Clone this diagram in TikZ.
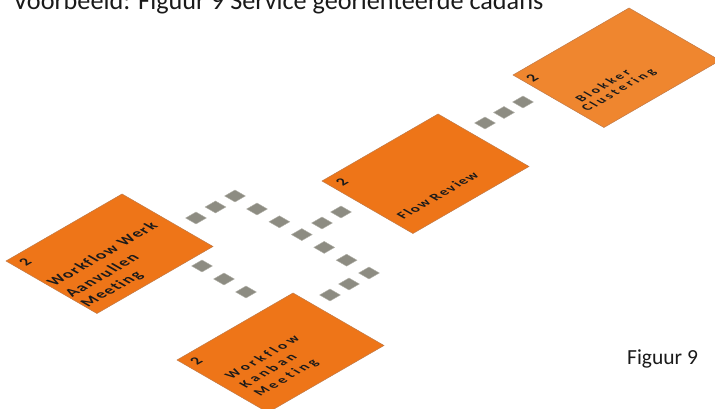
\documentclass[tikz,border=0pt]{standalone}
\usepackage{fontspec}
\setmainfont{Carlito}[Ligatures=NoCommon]
% letter-spaced faces for the tile captions
\newfontfamily\capA{Carlito}[LetterSpace=9,Ligatures=NoCommon]
\newfontfamily\capB{Carlito}[LetterSpace=23,Ligatures=NoCommon]
\newfontfamily\capC{Carlito}[LetterSpace=12,Ligatures=NoCommon]
\newfontfamily\capD{Carlito}[LetterSpace=22,Ligatures=NoCommon]
\usetikzlibrary{calc}

\definecolor{tileorange}{HTML}{EE7518}
\definecolor{tilelight}{HTML}{EF862F}
\definecolor{tileedge}{HTML}{C07A48}
\definecolor{stone}{HTML}{8D8C82}
\definecolor{stoneedge}{HTML}{B3B2AA}
\definecolor{ink}{HTML}{1A1A1A}

\begin{document}
\begin{tikzpicture}[x=1pt,y=1pt,
  % isometric top plane: local x runs up-right, local y runs up-left
  iso/.style={cm={0.866,0.5,-0.866,0.5,(0,0)}},
  tileface/.style={fill=#1, draw=tileedge, line width=0.5pt},
  tileface/.default=tileorange,
  caption/.style={anchor=base west, inner sep=0pt, transform shape, text=ink},
  tilenum/.style={inner sep=0pt, transform shape, text=ink,
    font=\bfseries\fontsize{15}{15}\selectfont},
  pics/stone/.style={code={
    \fill[stone, draw=stoneedge, line width=0.4pt]
      (-10.4,0) -- (0,6) -- (10.4,0) -- (0,-6) -- cycle;}}
]
\useasboundingbox (0,0) rectangle (715,409);
\clip (0,0) rectangle (715,409);

% heading and figure number
\node[anchor=base west, inner sep=0pt, text=ink,
  font=\fontsize{26.2}{30}\selectfont] (heading) at (13,399)
  {Voorbeeld: Figuur 9 Service georiënteerde cadans};
\node[anchor=base west, inner sep=0pt, text=ink,
  font=\fontsize{21.5}{24}\selectfont] (fignum) at (627,44) {Figuur 9};

% Workflow Werk Aanvullen Meeting
\begin{scope}[shift={(6,148)}, iso]
  \draw[tileface] (0,0) rectangle (134,-105);
  \node[tilenum] (n1) at (10,-12) {2};
  \begin{scope}[font=\capA\bfseries\fontsize{16}{16}\selectfont]
    \node[caption] (w1) at (2,-54) {Workflow Werk};
    \node[caption] (w2) at (1.5,-75) {Aanvullen};
    \node[caption] (w3) at (0.5,-94) {Meeting};
  \end{scope}
\end{scope}

% Workflow Kanban Meeting
\begin{scope}[shift={(177,49)}, iso]
  \draw[tileface] (0,0) rectangle (134,-105);
  \node[tilenum] (n2) at (10,-12) {2};
  \begin{scope}[font=\capB\bfseries\fontsize{14}{14}\selectfont]
    \node[caption] (k1) at (12,-51) {Workflow};
    \node[caption] (k2) at (11.5,-68) {Kanban};
    \node[caption] (k3) at (11,-85) {Meeting};
  \end{scope}
\end{scope}

% Flow Review
\begin{scope}[shift={(322,228)}, iso]
  \draw[tileface] (0,0) rectangle (134,-105);
  \node[tilenum] (n3) at (10,-13) {2};
  \node[caption, font=\capC\bfseries\fontsize{14}{14}\selectfont]
    (f1) at (8,-86) {Flow Review};
\end{scope}

% Blokker Clustering
\begin{scope}[shift={(513,334)}, iso]
  \draw[tileface=tilelight] (0,0) rectangle (134,-105);
  \node[tilenum] (n4) at (8,-14) {2};
  \begin{scope}[font=\capD\bfseries\fontsize{13}{13}\selectfont]
    \node[caption] (b1) at (12,-67) {Blokker};
    \node[caption] (b2) at (6,-80) {Clustering};
  \end{scope}
\end{scope}

% stepping-stone paths between the tiles
\coordinate (a1) at (485,286); \coordinate (a2) at (523,307);
\coordinate (b1) at (196,191); \coordinate (b2) at (235,213);
\coordinate (c1) at (257,200); \coordinate (c2) at (369,136);
\coordinate (d1) at (322,186); \coordinate (d2) at (341,197);
\coordinate (e1) at (202,143); \coordinate (e2) at (246,117);
\coordinate (f1) at (330,114); \coordinate (f2) at (349,125);

\foreach \t in {0,0.5,1} {
  \pic at ($(a1)!\t!(a2)$) {stone};
  \pic at ($(b1)!\t!(b2)$) {stone};
  \pic at ($(e1)!\t!(e2)$) {stone};
}
\foreach \t in {0,0.2,...,1.01} \pic at ($(c1)!\t!(c2)$) {stone};
\foreach \t in {0,1} {
  \pic at ($(d1)!\t!(d2)$) {stone};
  \pic at ($(f1)!\t!(f2)$) {stone};
}
\end{tikzpicture}
\end{document}
